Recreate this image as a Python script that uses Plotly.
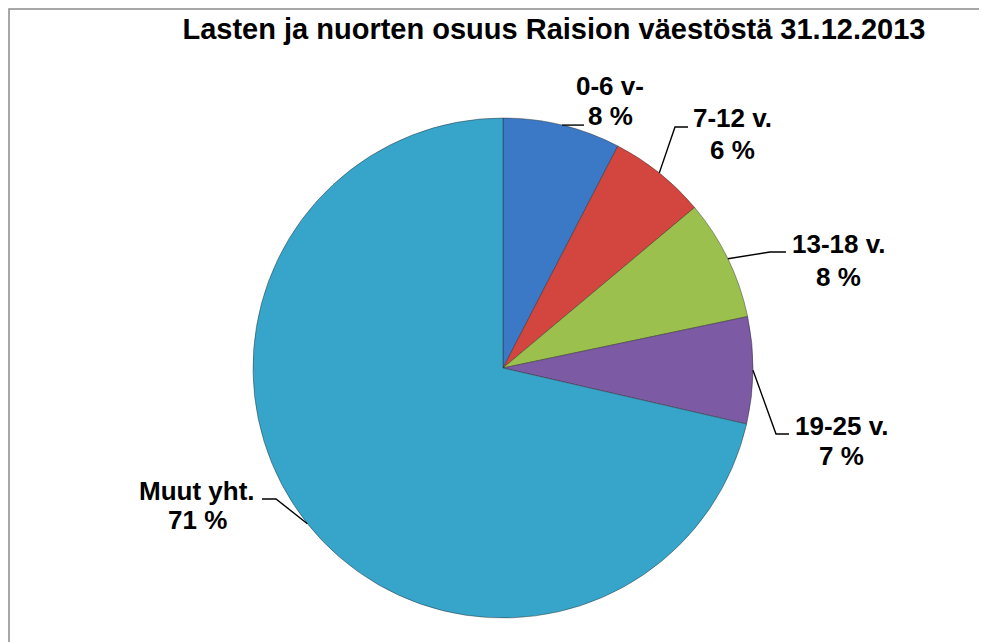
import math
import plotly.graph_objects as go

# ---- data ----
categories = ["0-6 v-", "7-12 v.", "13-18 v.", "19-25 v.", "Muut yht."]
shares = [7.6, 6.3, 7.8, 6.9, 71.4]          # % of population
colors = ["#3b79c6", "#d3463f", "#9cc04d", "#7c5aa4", "#37a5ca"]
title_text = "Lasten ja nuorten osuus Raision väestöstä 31.12.2013"

OFF = 8                             # page body margin
W, H = 987, 642
CX, CY, R = 503, 368, 250           # pie centre / radius in screen pixels (layout)

def px(x):
    return (x - OFF) / W

def py(y):
    return 1 - (y - OFF) / H

fig = go.Figure(go.Pie(
    labels=categories,
    values=shares,
    sort=False,
    direction="clockwise",
    rotation=0,
    textinfo="none",
    hoverinfo="label+percent",
    marker=dict(colors=colors, line=dict(color="rgba(40,40,40,0.55)", width=0.8)),
    domain=dict(x=[px(CX - R), px(CX + R)], y=[py(CY + R), py(CY - R)]),
    showlegend=False,
))

# label line centres (name line, value line) and leader-line elbows / ends (layout, pixels)
label_pos = [((610, 86), (610, 116)),
             ((732, 118), (732, 150)),
             ((838, 244), (838, 277)),
             ((841, 426), (841, 456)),
             ((197, 491), (197, 520))]
leader_pts = [
    [(584, None)],
    [(675, 127), (688, 127)],
    [(770, 252), (786, 252)],
    [(776, 434), (789, 434)],
    [(276, 499), (262, 499)],
]

FONT = "Liberation Sans, Arial, sans-serif"
total = sum(shares)
cum = 0.0
shapes = []
annotations = []
for i, (cat, v) in enumerate(zip(categories, shares)):
    mid = (cum + v / 2) / total * 2 * math.pi
    cum += v
    ex = CX + R * math.sin(mid)
    ey = CY - R * math.cos(mid)
    pts = [(ex, ey)]
    for (x, y) in leader_pts[i]:
        pts.append((x, ey if y is None else y))
    path = "M {} {}".format(px(pts[0][0]), py(pts[0][1]))
    for (x, y) in pts[1:]:
        path += " L {} {}".format(px(x), py(y))
    shapes.append(dict(type="path", path=path, xref="paper", yref="paper",
                       line=dict(color="black", width=1.4)))
    (l1x, l1y), (l2x, l2y) = label_pos[i]
    for (x, y, t) in ((l1x, l1y, cat), (l2x, l2y, "{:.0f} %".format(v))):
        annotations.append(dict(
            x=px(x), y=py(y), xref="paper", yref="paper",
            text="<b>" + t + "</b>",
            showarrow=False, xanchor="center", yanchor="middle", align="center",
            font=dict(family=FONT, size=26, color="black"),
        ))

# chart-area border: only left and top edges are visible in the original
border = "M {} {} L {} {} L {} {}".format(px(9), 0, px(9), py(9), 1, py(9))
shapes.append(dict(type="path", path=border, xref="paper", yref="paper",
                   line=dict(color="#8a8a8a", width=1.5), layer="below"))

fig.update_layout(
    width=W, height=H,
    margin=dict(l=0, r=0, t=0, b=0),
    paper_bgcolor="white",
    plot_bgcolor="white",
    title=dict(text="<b>" + title_text + "</b>", x=px(554), xanchor="center",
               y=py(29), yanchor="middle", yref="container",
               font=dict(family=FONT, size=29, color="black")),
    shapes=shapes,
    annotations=annotations,
)

fig.write_html("out.html")
